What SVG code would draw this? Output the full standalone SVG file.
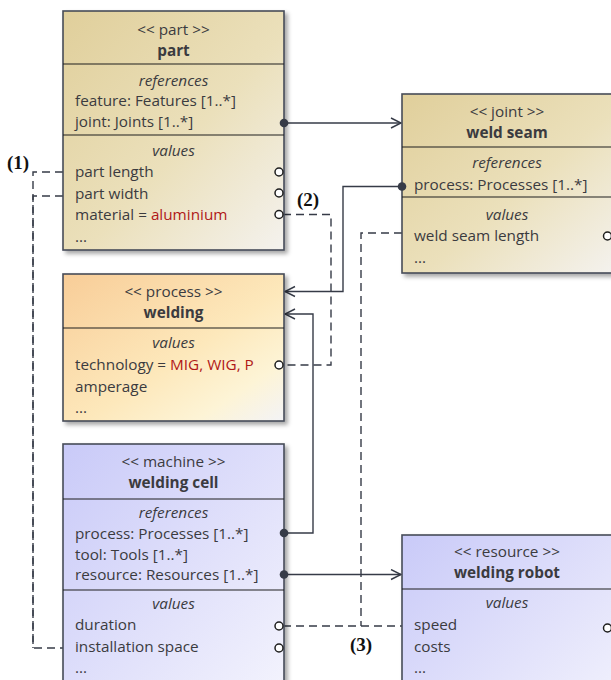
<svg xmlns="http://www.w3.org/2000/svg" width="611" height="680" viewBox="0 0 611 680">
  <defs>
    <linearGradient id="gPart" x1="0" y1="0" x2="1" y2="1">
      <stop offset="0" stop-color="#e0cf9b"/>
      <stop offset="0.55" stop-color="#ebe0bb"/>
      <stop offset="1" stop-color="#f4f2ee"/>
    </linearGradient>
    <linearGradient id="gProc" x1="0" y1="0" x2="1" y2="1">
      <stop offset="0" stop-color="#f8cd98"/>
      <stop offset="0.55" stop-color="#fde8bb"/>
      <stop offset="0.8" stop-color="#fdf4d6"/>
      <stop offset="1" stop-color="#f3f3f6"/>
    </linearGradient>
    <linearGradient id="gMach" x1="0" y1="0" x2="1" y2="1">
      <stop offset="0" stop-color="#c9caf8"/>
      <stop offset="0.6" stop-color="#e3e3fb"/>
      <stop offset="1" stop-color="#f4f4fd"/>
    </linearGradient>
    <filter id="shadow" x="-10%" y="-10%" width="130%" height="130%">
      <feDropShadow dx="3" dy="3" stdDeviation="2" flood-color="#000" flood-opacity="0.35"/>
    </filter>
    <marker id="arrow" markerUnits="userSpaceOnUse" markerWidth="14" markerHeight="14" refX="11" refY="6" orient="auto">
      <path d="M1,1 L11,6 L1,11" fill="none" stroke="#363b47" stroke-width="1.4"/>
    </marker>
  </defs>
  <style>
    .box { stroke: #474c58; stroke-width: 1.6; filter: url(#shadow); }
    .div { stroke: #1e1e1e; stroke-width: 1.1; }
    text { font-family: "Open Sans", "Noto Sans", sans-serif; font-size: 15.3px; fill: #3b3b3f; }
    .c { text-anchor: middle; }
    .b { font-weight: bold; }
    .i { font-style: italic; }
    .red { fill: #b01818; }
    .lbl { font-family: "Liberation Serif", "Times New Roman", serif; font-weight: bold; font-size: 19px; fill: #111; }
    .conn { fill: none; stroke: #363b47; stroke-width: 1.4; }
    .dash { fill: none; stroke: #363b47; stroke-width: 1.4; stroke-dasharray: 8 5; }
    .dot { fill: #363b47; }
    .port { fill: #fff; stroke: #1e1e1e; stroke-width: 1.5; }
  </style>

  <!-- connectors -->
  <g id="connectors">
    <path class="conn" d="M284,123 H401" marker-end="url(#arrow)"/>
    <path class="conn" d="M402,186.5 H343 V291.5 H285" marker-end="url(#arrow)"/>
    <path class="conn" d="M284,533 H313 V314 H285" marker-end="url(#arrow)"/>
    <path class="conn" d="M284,574.5 H401" marker-end="url(#arrow)"/>
    <path class="dash" d="M63,172 H33 V648 H63"/>
    <path class="dash" d="M63,196 H33 V648"/>
    <path class="dash" d="M283,214.5 H331 V365 H283"/>
    <path class="dash" d="M402,233 H361 V626"/>
    <path class="dash" d="M283,626 H402"/>
    <text class="lbl" x="7" y="169">(1)</text>
    <text class="lbl" x="297" y="206">(2)</text>
    <text class="lbl" x="350" y="651">(3)</text>
  </g>

  <!-- part -->
  <g id="part">
    <rect class="box" x="63" y="11" width="221" height="239" fill="url(#gPart)"/>
    <line class="div" x1="63" y1="64" x2="284" y2="64"/>
    <line class="div" x1="63" y1="135" x2="284" y2="135"/>
    <text class="c" x="173.5" y="35">&lt;&lt; part &gt;&gt;</text>
    <text class="c b" x="173.5" y="56">part</text>
    <text class="c i" x="173.5" y="86">references</text>
    <text x="75" y="106">feature: Features [1..*]</text>
    <text x="75" y="127">joint: Joints [1..*]</text>
    <text class="c i" x="173.5" y="156">values</text>
    <text x="75" y="177">part length</text>
    <text x="75" y="199">part width</text>
    <text x="75" y="220">material = <tspan class="red">aluminium</tspan></text>
    <text x="75" y="242">...</text>
    <circle class="dot" cx="284" cy="123" r="4.3"/>
    <circle class="port" cx="279" cy="172" r="4"/>
    <circle class="port" cx="279" cy="193" r="4"/>
    <circle class="port" cx="279" cy="214.5" r="4"/>
  </g>

  <!-- weld seam -->
  <g id="weld-seam">
    <rect class="box" x="402" y="94" width="211" height="179" fill="url(#gPart)"/>
    <line class="div" x1="402" y1="147" x2="613" y2="147"/>
    <line class="div" x1="402" y1="197" x2="613" y2="197"/>
    <text class="c" x="507" y="117">&lt;&lt; joint &gt;&gt;</text>
    <text class="c b" x="507" y="138">weld seam</text>
    <text class="c i" x="507" y="168">references</text>
    <text x="414" y="190">process: Processes [1..*]</text>
    <text class="c i" x="507" y="220">values</text>
    <text x="414" y="241">weld seam length</text>
    <text x="414" y="263">...</text>
    <circle class="dot" cx="402" cy="186.5" r="4.3"/>
    <circle class="port" cx="607.5" cy="236" r="4"/>
  </g>

  <!-- welding -->
  <g id="welding">
    <rect class="box" x="63" y="274" width="221" height="147" fill="url(#gProc)"/>
    <line class="div" x1="63" y1="328" x2="284" y2="328"/>
    <text class="c" x="173.5" y="297">&lt;&lt; process &gt;&gt;</text>
    <text class="c b" x="173.5" y="318">welding</text>
    <text class="c i" x="173.5" y="348">values</text>
    <text x="75" y="370">technology = <tspan class="red">MIG, WIG, P</tspan></text>
    <text x="75" y="392">amperage</text>
    <text x="75" y="413">...</text>
    <circle class="port" cx="279" cy="365" r="4"/>
  </g>

  <!-- welding cell -->
  <g id="welding-cell">
    <rect class="box" x="63" y="444" width="221" height="260" fill="url(#gMach)"/>
    <line class="div" x1="63" y1="499" x2="284" y2="499"/>
    <line class="div" x1="63" y1="590" x2="284" y2="590"/>
    <text class="c" x="173.5" y="467">&lt;&lt; machine &gt;&gt;</text>
    <text class="c b" x="173.5" y="488">welding cell</text>
    <text class="c i" x="173.5" y="518">references</text>
    <text x="75" y="539">process: Processes [1..*]</text>
    <text x="75" y="560">tool: Tools [1..*]</text>
    <text x="75" y="580">resource: Resources [1..*]</text>
    <text class="c i" x="173.5" y="609">values</text>
    <text x="75" y="630">duration</text>
    <text x="75" y="652">installation space</text>
    <text x="75" y="673">...</text>
    <circle class="dot" cx="284" cy="533" r="4.3"/>
    <circle class="dot" cx="284" cy="574.5" r="4.3"/>
    <circle class="port" cx="279" cy="626" r="4"/>
    <circle class="port" cx="279" cy="648" r="4"/>
  </g>

  <!-- welding robot -->
  <g id="welding-robot">
    <rect class="box" x="402" y="535" width="211" height="200" fill="url(#gMach)"/>
    <line class="div" x1="402" y1="589" x2="613" y2="589"/>
    <text class="c" x="507" y="557">&lt;&lt; resource &gt;&gt;</text>
    <text class="c b" x="507" y="578">welding robot</text>
    <text class="c i" x="507" y="608">values</text>
    <text x="414" y="630">speed</text>
    <text x="414" y="652">costs</text>
    <text x="414" y="673">...</text>
    <circle class="port" cx="607.5" cy="628" r="4"/>
  </g>
</svg>
